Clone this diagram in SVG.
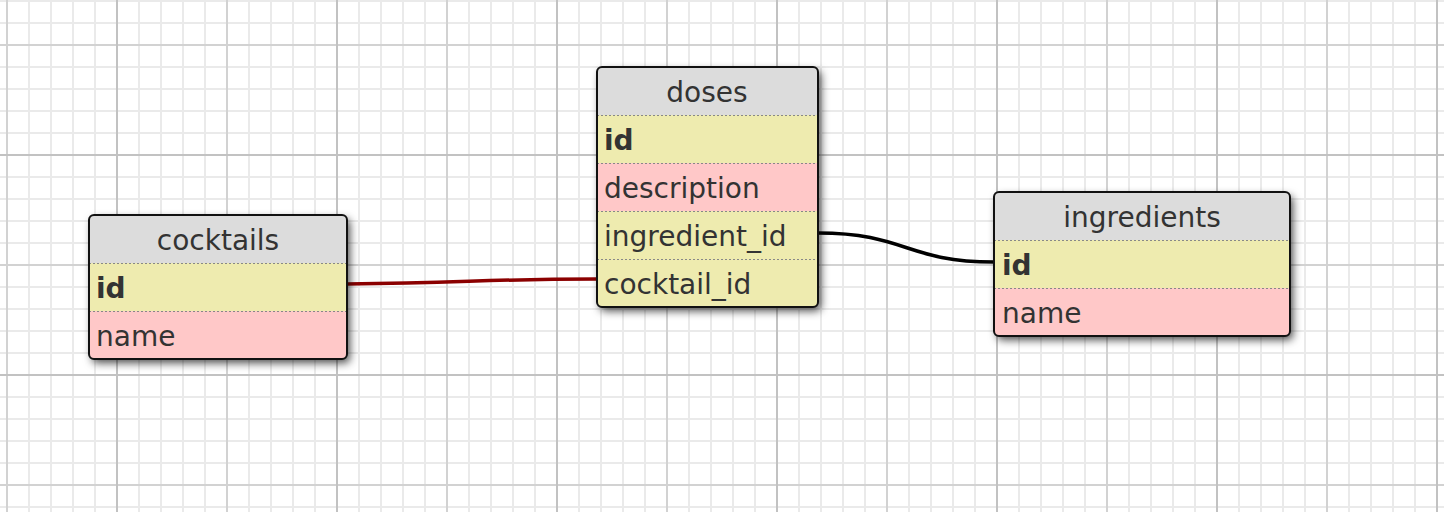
<svg xmlns="http://www.w3.org/2000/svg" width="1444" height="512" viewBox="0 0 1444 512">
  <style>
    .title { font-family: "DejaVu Sans", Verdana, sans-serif; font-size: 28px; fill: #333; text-anchor: middle; }
    .field { font-family: "DejaVu Sans", Verdana, sans-serif; font-size: 28px; fill: #333; }
    .pk { font-weight: bold; }
    .hdr { fill: #dcdcdc; }
    .yel { fill: #eeebaf; }
    .pnk { fill: #ffc8c8; }
    .sep { stroke: #888; stroke-width: 1; stroke-dasharray: 2 2; fill: none; }
    .border { fill: none; stroke: #111; stroke-width: 2; }
    .minor { stroke: #eaeaea; stroke-width: 2; fill: none; }
    .major1 { stroke: #d2d2d2; stroke-width: 2; fill: none; }
    .major2 { stroke: #c2c2c2; stroke-width: 2; fill: none; }
    .rel { fill: none; stroke-width: 3.5; }
  </style>
  <defs>
    <pattern id="grid" x="6" y="0" width="22" height="22" patternUnits="userSpaceOnUse">
      <rect x="0" y="0" width="22" height="22" fill="#fff"/>
      <path d="M1,0 V22 M0,1 H22" class="minor"/>
    </pattern>
    <filter id="shadow" x="-10%" y="-10%" width="125%" height="130%">
      <feDropShadow dx="3" dy="4" stdDeviation="4.5" flood-color="#000" flood-opacity="0.7"/>
    </filter>
    <clipPath id="clipCocktails"><rect x="89" y="215" width="258" height="144" rx="5"/></clipPath>
    <clipPath id="clipDoses"><rect x="597" y="67" width="221" height="240" rx="5"/></clipPath>
    <clipPath id="clipIngredients"><rect x="994" y="192" width="296" height="144" rx="5"/></clipPath>
  </defs>

  <g id="background">
    <rect x="0" y="0" width="1444" height="512" fill="url(#grid)"/>
    <path class="major1" d="M7,0 V512 M227,0 V512 M447,0 V512 M667,0 V512 M887,0 V512 M1107,0 V512 M1327,0 V512 M0,45 H1444 M0,265 H1444 M0,485 H1444"/>
    <path class="major2" d="M117,0 V512 M337,0 V512 M557,0 V512 M777,0 V512 M997,0 V512 M1217,0 V512 M1437,0 V512 M0,155 H1444 M0,375 H1444"/>
  </g>

  <g id="connectors">
    <path class="rel" stroke="#8b0000" d="M347,284 C470,283 480,279 597,279"/>
    <path class="rel" stroke="#000" d="M818,233 C906,233 906,262 994,262"/>
  </g>

  <g id="cocktails">
    <rect x="89" y="215" width="258" height="144" rx="5" fill="#fff" filter="url(#shadow)"/>
    <g clip-path="url(#clipCocktails)">
      <rect class="hdr" x="89" y="215" width="258" height="48"/>
      <rect class="yel" x="89" y="263" width="258" height="48"/>
      <rect class="pnk" x="89" y="311" width="258" height="48"/>
    </g>
    <path class="sep" d="M89,263.5 H347 M89,311.5 H347"/>
    <rect class="border" x="89" y="215" width="258" height="144" rx="5"/>
    <text class="title" x="218" y="250">cocktails</text>
    <text class="field pk" x="96" y="298">id</text>
    <text class="field" x="96" y="346">name</text>
  </g>

  <g id="doses">
    <rect x="597" y="67" width="221" height="240" rx="5" fill="#fff" filter="url(#shadow)"/>
    <g clip-path="url(#clipDoses)">
      <rect class="hdr" x="597" y="67" width="221" height="48"/>
      <rect class="yel" x="597" y="115" width="221" height="48"/>
      <rect class="pnk" x="597" y="163" width="221" height="48"/>
      <rect class="yel" x="597" y="211" width="221" height="48"/>
      <rect class="yel" x="597" y="259" width="221" height="48"/>
    </g>
    <path class="sep" d="M597,115.5 H818 M597,163.5 H818 M597,211.5 H818 M597,259.5 H818"/>
    <rect class="border" x="597" y="67" width="221" height="240" rx="5"/>
    <text class="title" x="707" y="102">doses</text>
    <text class="field pk" x="604" y="150">id</text>
    <text class="field" x="604" y="198">description</text>
    <text class="field" x="604" y="246">ingredient_id</text>
    <text class="field" x="604" y="294">cocktail_id</text>
  </g>

  <g id="ingredients">
    <rect x="994" y="192" width="296" height="144" rx="5" fill="#fff" filter="url(#shadow)"/>
    <g clip-path="url(#clipIngredients)">
      <rect class="hdr" x="994" y="192" width="296" height="48"/>
      <rect class="yel" x="994" y="240" width="296" height="48"/>
      <rect class="pnk" x="994" y="288" width="296" height="48"/>
    </g>
    <path class="sep" d="M994,240.5 H1290 M994,288.5 H1290"/>
    <rect class="border" x="994" y="192" width="296" height="144" rx="5"/>
    <text class="title" x="1142" y="227">ingredients</text>
    <text class="field pk" x="1002" y="275">id</text>
    <text class="field" x="1002" y="323">name</text>
  </g>
</svg>
